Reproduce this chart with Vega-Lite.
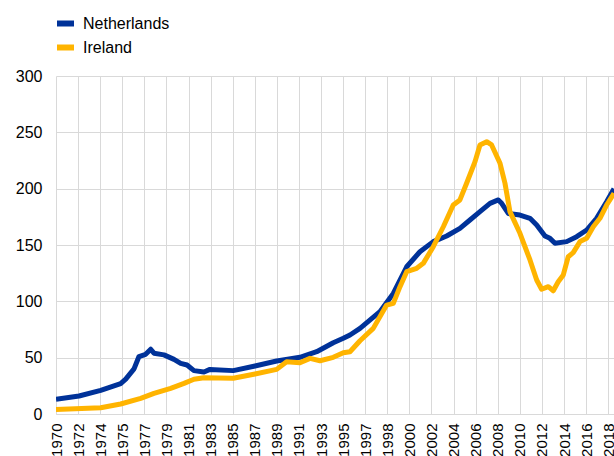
{
  "$schema": "https://vega.github.io/schema/vega-lite/v6.json",
  "autosize": "none",
  "width": 558,
  "height": 338,
  "padding": {"left": 56, "top": 76, "right": 0, "bottom": 42},
  "background": "white",
  "config": {
    "view": {"stroke": null},
    "font": "Liberation Sans",
    "axis": {"labelFont": "Liberation Sans", "labelColor": "#000000", "ticks": false, "gridColor": "#d9d9d9", "gridWidth": 1, "domainColor": "#d9d9d9", "title": null}
  },
  "data": {"values": [
    {"country": "Netherlands", "year": 1970.20, "value": 13},
    {"country": "Netherlands", "year": 1972.20, "value": 16},
    {"country": "Netherlands", "year": 1974.08, "value": 21},
    {"country": "Netherlands", "year": 1975.81, "value": 27},
    {"country": "Netherlands", "year": 1976.25, "value": 31},
    {"country": "Netherlands", "year": 1976.97, "value": 40},
    {"country": "Netherlands", "year": 1977.40, "value": 51},
    {"country": "Netherlands", "year": 1977.98, "value": 53},
    {"country": "Netherlands", "year": 1978.42, "value": 57.5},
    {"country": "Netherlands", "year": 1978.70, "value": 54},
    {"country": "Netherlands", "year": 1979.57, "value": 52.5},
    {"country": "Netherlands", "year": 1980.44, "value": 48.5},
    {"country": "Netherlands", "year": 1981.02, "value": 45},
    {"country": "Netherlands", "year": 1981.57, "value": 43.5},
    {"country": "Netherlands", "year": 1982.17, "value": 38.5},
    {"country": "Netherlands", "year": 1983.04, "value": 37.3},
    {"country": "Netherlands", "year": 1983.56, "value": 39.6},
    {"country": "Netherlands", "year": 1985.58, "value": 38.5},
    {"country": "Netherlands", "year": 1987.47, "value": 42.6},
    {"country": "Netherlands", "year": 1989.35, "value": 47},
    {"country": "Netherlands", "year": 1991.37, "value": 50.3},
    {"country": "Netherlands", "year": 1992.82, "value": 55.3},
    {"country": "Netherlands", "year": 1994.26, "value": 63.3},
    {"country": "Netherlands", "year": 1995.13, "value": 67.2},
    {"country": "Netherlands", "year": 1995.71, "value": 70.1},
    {"country": "Netherlands", "year": 1996.58, "value": 76},
    {"country": "Netherlands", "year": 1998.31, "value": 90.8},
    {"country": "Netherlands", "year": 1999.47, "value": 107},
    {"country": "Netherlands", "year": 2000.63, "value": 130.7},
    {"country": "Netherlands", "year": 2001.78, "value": 144},
    {"country": "Netherlands", "year": 2002.94, "value": 153},
    {"country": "Netherlands", "year": 2004.10, "value": 158},
    {"country": "Netherlands", "year": 2005.25, "value": 164.8},
    {"country": "Netherlands", "year": 2006.12, "value": 172.2},
    {"country": "Netherlands", "year": 2006.99, "value": 179.6},
    {"country": "Netherlands", "year": 2007.86, "value": 187},
    {"country": "Netherlands", "year": 2008.58, "value": 190},
    {"country": "Netherlands", "year": 2008.87, "value": 187},
    {"country": "Netherlands", "year": 2009.45, "value": 178},
    {"country": "Netherlands", "year": 2010.46, "value": 176.6},
    {"country": "Netherlands", "year": 2011.33, "value": 173.7},
    {"country": "Netherlands", "year": 2011.91, "value": 167.8},
    {"country": "Netherlands", "year": 2012.63, "value": 158},
    {"country": "Netherlands", "year": 2013.06, "value": 155.9},
    {"country": "Netherlands", "year": 2013.50, "value": 151.5},
    {"country": "Netherlands", "year": 2014.51, "value": 153},
    {"country": "Netherlands", "year": 2015.38, "value": 157.4},
    {"country": "Netherlands", "year": 2016.25, "value": 163.3},
    {"country": "Netherlands", "year": 2017.11, "value": 173.7},
    {"country": "Netherlands", "year": 2017.98, "value": 188.4},
    {"country": "Netherlands", "year": 2018.62, "value": 200},
    {"country": "Ireland", "year": 1970.20, "value": 4.1},
    {"country": "Ireland", "year": 1974.08, "value": 5.6},
    {"country": "Ireland", "year": 1975.81, "value": 8.9},
    {"country": "Ireland", "year": 1977.55, "value": 13.9},
    {"country": "Ireland", "year": 1978.70, "value": 18.3},
    {"country": "Ireland", "year": 1980.15, "value": 22.8},
    {"country": "Ireland", "year": 1981.31, "value": 27.2},
    {"country": "Ireland", "year": 1982.17, "value": 30.8},
    {"country": "Ireland", "year": 1983.04, "value": 32.2},
    {"country": "Ireland", "year": 1985.58, "value": 31.7},
    {"country": "Ireland", "year": 1987.47, "value": 35.5},
    {"country": "Ireland", "year": 1989.35, "value": 39.6},
    {"country": "Ireland", "year": 1990.21, "value": 46.4},
    {"country": "Ireland", "year": 1991.37, "value": 45.5},
    {"country": "Ireland", "year": 1992.24, "value": 49.4},
    {"country": "Ireland", "year": 1993.11, "value": 47.3},
    {"country": "Ireland", "year": 1994.26, "value": 50.3},
    {"country": "Ireland", "year": 1995.13, "value": 54.4},
    {"country": "Ireland", "year": 1995.71, "value": 55.3},
    {"country": "Ireland", "year": 1996.58, "value": 65},
    {"country": "Ireland", "year": 1997.73, "value": 76},
    {"country": "Ireland", "year": 1998.89, "value": 96.7},
    {"country": "Ireland", "year": 1999.47, "value": 98.2},
    {"country": "Ireland", "year": 2000.05, "value": 113},
    {"country": "Ireland", "year": 2000.63, "value": 126.3},
    {"country": "Ireland", "year": 2001.50, "value": 129.3},
    {"country": "Ireland", "year": 2002.07, "value": 133.7},
    {"country": "Ireland", "year": 2002.94, "value": 148.5},
    {"country": "Ireland", "year": 2003.81, "value": 166.2},
    {"country": "Ireland", "year": 2004.67, "value": 185.5},
    {"country": "Ireland", "year": 2005.25, "value": 190},
    {"country": "Ireland", "year": 2005.83, "value": 204.8},
    {"country": "Ireland", "year": 2006.56, "value": 224},
    {"country": "Ireland", "year": 2006.99, "value": 238.8},
    {"country": "Ireland", "year": 2007.57, "value": 241.7},
    {"country": "Ireland", "year": 2008.00, "value": 238.8},
    {"country": "Ireland", "year": 2008.73, "value": 222.5},
    {"country": "Ireland", "year": 2009.16, "value": 204.8},
    {"country": "Ireland", "year": 2009.59, "value": 179.6},
    {"country": "Ireland", "year": 2010.46, "value": 160.4},
    {"country": "Ireland", "year": 2011.33, "value": 136.7},
    {"country": "Ireland", "year": 2011.91, "value": 118.9},
    {"country": "Ireland", "year": 2012.34, "value": 110.7},
    {"country": "Ireland", "year": 2012.92, "value": 113},
    {"country": "Ireland", "year": 2013.35, "value": 109.4},
    {"country": "Ireland", "year": 2013.78, "value": 117.4},
    {"country": "Ireland", "year": 2014.22, "value": 123.4},
    {"country": "Ireland", "year": 2014.65, "value": 139.6},
    {"country": "Ireland", "year": 2015.08, "value": 143.2},
    {"country": "Ireland", "year": 2015.67, "value": 153},
    {"country": "Ireland", "year": 2016.25, "value": 155.9},
    {"country": "Ireland", "year": 2016.82, "value": 166.2},
    {"country": "Ireland", "year": 2017.40, "value": 173.7},
    {"country": "Ireland", "year": 2017.98, "value": 185.5},
    {"country": "Ireland", "year": 2018.62, "value": 195.9}
  ]},
  "encoding": {
    "x": {
      "field": "year", "type": "quantitative",
      "scale": {"domain": [1970.2, 2018.62], "nice": false, "zero": false},
      "axis": {
        "values": [1970.2, 1972.1167, 1974.0333, 1975.95, 1977.8667, 1979.7833, 1981.7, 1983.6167, 1985.5333, 1987.45, 1989.3667, 1991.2833, 1993.2, 1995.1167, 1997.0333, 1998.95, 2000.8667, 2002.7833, 2004.7, 2006.6167, 2008.5333, 2010.45, 2012.3667, 2014.2833, 2016.2, 2018.1167],
        "labelExpr": "floor(datum.value)",
        "labelAngle": -90,
        "labelFontSize": 15,
        "labelPadding": 9,
        "labelOverlap": false,
        "labelBound": false,
        "labelFlush": false,
        "grid": true
      }
    },
    "y": {
      "field": "value", "type": "quantitative",
      "scale": {"domain": [0, 300], "nice": false},
      "axis": {"values": [0, 50, 100, 150, 200, 250, 300], "labelFontSize": 16, "labelPadding": 14, "domain": false, "grid": true}
    },
    "color": {
      "field": "country", "type": "nominal",
      "scale": {"domain": ["Netherlands", "Ireland"], "range": ["#003299", "#FFB400"]},
      "legend": {
        "title": null, "orient": "none", "legendX": -2, "legendY": -64,
        "symbolType": "stroke", "symbolStrokeWidth": 6, "symbolSize": 289,
        "labelFontSize": 16, "labelColor": "#000000", "labelFont": "Liberation Sans", "labelOffset": 6, "rowPadding": -6, "padding": 0
      }
    }
  },
  "layer": [
    {"transform": [{"filter": "datum.country === 'Netherlands'"}], "mark": {"type": "line", "strokeWidth": 5, "strokeJoin": "round", "clip": true}},
    {"transform": [{"filter": "datum.country === 'Ireland'"}], "mark": {"type": "line", "strokeWidth": 5, "strokeJoin": "round", "clip": true}}
  ]
}
